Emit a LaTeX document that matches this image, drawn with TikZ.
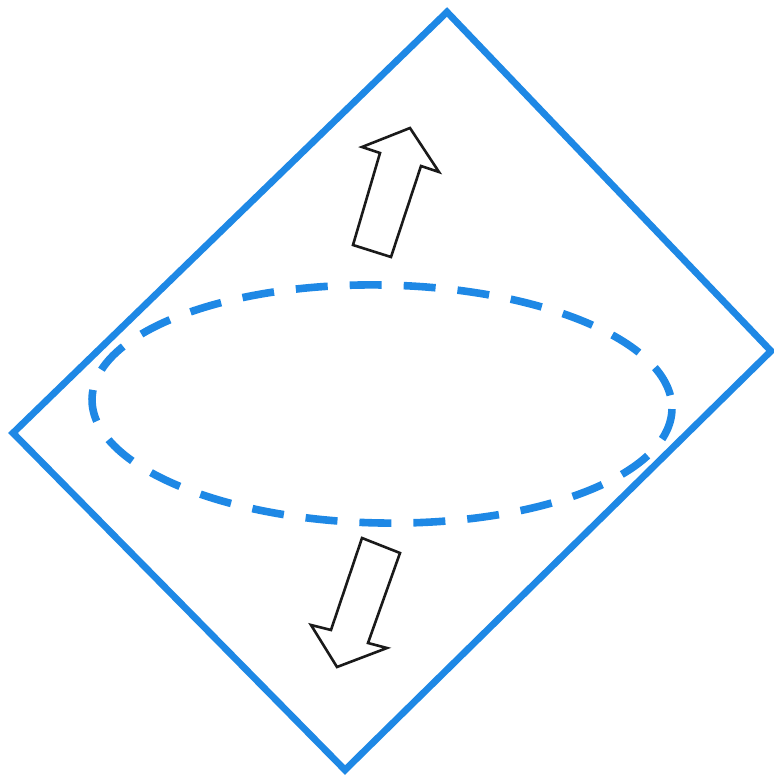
\documentclass[tikz,border=0pt]{standalone}
\usetikzlibrary{calc}
\definecolor{PlaneBlue}{HTML}{1E88E5}
\definecolor{PlaneInk}{HTML}{1A1A1A}
\tikzset{
  fig/plane/.style={draw=PlaneBlue, line width=3.4pt, line join=miter},
  fig/orbit/.style={draw=PlaneBlue, line width=3.8pt,
    dash pattern=on 16pt off 11pt},
  fig/push/.style={draw=PlaneInk, fill=white, line width=1.3pt, line join=miter}
}
\begin{document}
\begin{tikzpicture}[x=.5pt,y=-.5pt]
  \useasboundingbox (0,0) rectangle (774,778);
  % tilted plane
  \coordinate (top) at (447,12);
  \coordinate (right) at (771,351);
  \coordinate (bottom) at (345,770);
  \coordinate (left) at (13,433);
  \draw[fig/plane] (top) -- (right) -- (bottom) -- (left) -- cycle;
  % dashed loop
  \coordinate (mid) at (382,404);
  \draw[fig/orbit] (mid) ellipse[x radius=290, y radius=119, rotate=-1];
  % push arrows
  \draw[fig/push] (353,245) -- (380,153) -- (362,147) -- (410,128)
    -- (439,172) -- (421,166) -- (391,257) -- cycle;
  \draw[fig/push] (362,538) -- (400,553) -- (368,643) -- (387,648)
    -- (337,667) -- (311,625) -- (331,630) -- cycle;
\end{tikzpicture}
\end{document}
